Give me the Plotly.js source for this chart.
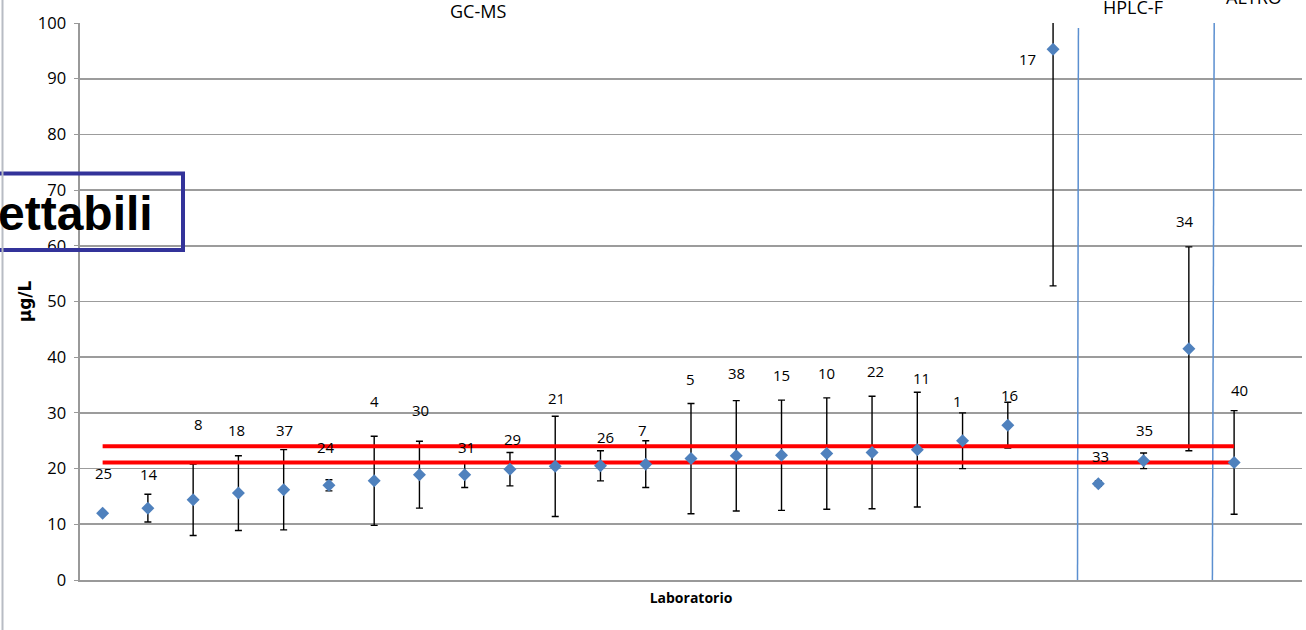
<!DOCTYPE html>
<html>
<head>
<meta charset="utf-8">
<script src="https://cdn.plot.ly/plotly-3.0.1.min.js"></script>
<style>
  html, body { margin: 0; padding: 0; background: #ffffff; }
  #chart { width: 1306px; height: 630px; }
</style>
</head>
<body>
<div id="chart"></div>
<script>
// ---- data ----
var labs = ['25','14','8','18','37','24','4','30','31','29','21','26','7','5','38','15','10','22','11','1','16','17','33','35','34','40'];
var values = [12.0, 12.9, 14.4, 15.6, 16.2, 17.0, 17.8, 18.9, 18.9, 19.9, 20.4, 20.5, 20.8, 21.8, 22.3, 22.4, 22.7, 22.9, 23.4, 25.0, 27.8, 95.3, 17.3, 21.4, 41.5, 21.1];
var errors = [0, 2.5, 6.4, 6.7, 7.2, 1.0, 8.0, 6.0, 2.3, 3.0, 9.0, 2.7, 4.2, 9.9, 9.9, 9.9, 10.0, 10.1, 10.3, 5.0, 4.1, 42.5, 0.5, 1.4, 18.3, 9.3];
var limitUpper = 24.0;
var limitLower = 21.1;
var groupNames = ['GC-MS', 'HPLC-F', 'ALTRO'];

// ---- label placement (layout only) ----
var labelY  = [19.3, 19.0, 28.0, 26.9, 26.9, 23.9, 32.2, 30.5, 23.8, 25.3, 32.6, 25.6, 26.9, 36.1, 37.1, 36.8, 37.1, 37.5, 36.2, 32.2, 33.2, 93.5, 22.2, 26.9, 64.5, 34.1];
var labelDx = [1, 1, 5, -2, 1, -3, 0, 1, 2, 3, 1, 5, -3, -1, 0, 0, 0, 3, 4, -5, 2, -26, 2, 1, -4, 5];

var FONT = '"Open Sans", Lato, sans-serif';

var errTrace = {
  x: labs, y: values, type: 'scatter', mode: 'markers',
  marker: {size: 1, opacity: 0},
  error_y: {type: 'data', array: errors, visible: true, color: '#000000', thickness: 1.4, width: 3.5},
  hoverinfo: 'skip', showlegend: false
};
var upperTrace = {
  x: [labs[0], labs[labs.length - 1]], y: [limitUpper, limitUpper],
  type: 'scatter', mode: 'lines', line: {color: '#ff0000', width: 4}, showlegend: false
};
var lowerTrace = {
  x: [labs[0], labs[labs.length - 1]], y: [limitLower, limitLower],
  type: 'scatter', mode: 'lines', line: {color: '#ff0000', width: 4}, showlegend: false
};
var pointTrace = {
  x: labs, y: values, type: 'scatter', mode: 'markers',
  marker: {symbol: 'diamond', size: 10, color: '#4f81bd', line: {width: 0}},
  showlegend: false
};

var annotations = labs.map(function (lab, i) {
  return {
    x: i, y: labelY[i], xref: 'x', yref: 'y', text: lab, showarrow: false,
    xshift: labelDx[i], xanchor: 'center', yanchor: 'middle',
    font: {family: FONT, size: 15, color: '#000000'}
  };
});
// group labels across the top
var groupX = [0.326, 0.8617, 0.9607];
var groupShift = [12, 16.5, 26];
groupNames.forEach(function (g, i) {
  annotations.push({
    x: groupX[i], y: 1, xref: 'paper', yref: 'paper', text: g, showarrow: false,
    xanchor: 'center', yanchor: 'middle', yshift: groupShift[i],
    font: {family: FONT, size: 18, color: '#000000'}
  });
});
// partially visible callout text
annotations.push({
  x: (155 - 80) / 1222, y: (580 - 213) / 557, xref: 'paper', yref: 'paper',
  text: '<b>ettabili</b>', showarrow: false, xanchor: 'right', yanchor: 'middle',
  font: {family: '"Liberation Sans", Arial, sans-serif', size: 48, color: '#000000'}
});

var layout = {
  width: 1306, height: 630,
  margin: {l: 80, r: 4, t: 23, b: 50},
  paper_bgcolor: '#ffffff', plot_bgcolor: '#ffffff',
  showlegend: false,
  font: {family: FONT, color: '#000000'},
  xaxis: {
    type: 'category', categoryorder: 'array', categoryarray: labs,
    range: [-0.5, 26.5], showticklabels: false, ticks: '', showgrid: false,
    showline: true, linecolor: '#999999', linewidth: 1.6, zeroline: false,
    title: {text: '<b>Laboratorio</b>', font: {family: FONT, size: 14, color: '#000000'}, standoff: 12},
    fixedrange: true
  },
  yaxis: {
    range: [0, 100], dtick: 10, tick0: 0, ticks: 'outside', ticklen: 4, tickcolor: '#999999',
    ticklabelstandoff: 5,
    tickfont: {family: FONT, size: 16.5, color: '#000000'},
    showline: true, linecolor: '#999999', linewidth: 1.6,
    showgrid: true, gridcolor: '#9c9c9c', gridwidth: 1.6, zeroline: false,
    title: {text: '<b>µg/L</b>', font: {family: '"DejaVu Sans", sans-serif', size: 17, color: '#000000'}, standoff: 2},
    fixedrange: true
  },
  shapes: [
    {type: 'line', xref: 'x', yref: 'y', x0: 21.54, x1: 21.56, y0: -0.3, y1: 99.1, layer: 'between',
     line: {color: '#5b8fd0', width: 1.5}},
    {type: 'line', xref: 'x', yref: 'y', x0: 24.52, x1: 24.56, y0: -0.2, y1: 100.2, layer: 'between',
     line: {color: '#5b8fd0', width: 1.5}},
    {type: 'rect', xref: 'paper', yref: 'paper',
     x0: (-10 - 80) / 1222, x1: (183 - 80) / 1222, y0: (580 - 250) / 557, y1: (580 - 173.5) / 557,
     layer: 'above', line: {color: '#33339a', width: 4}, fillcolor: 'rgba(0,0,0,0)'},
    {type: 'line', xref: 'paper', yref: 'paper',
     x0: (2.5 - 80) / 1222, x1: (2.5 - 80) / 1222, y0: (580 - 630) / 557, y1: (580 - 0) / 557,
     layer: 'above', line: {color: '#b8bcc4', width: 2}}
  ],
  annotations: annotations
};

Plotly.newPlot('chart', [errTrace, upperTrace, lowerTrace, pointTrace], layout, {staticPlot: true, displayModeBar: false});
</script>
</body>
</html>
